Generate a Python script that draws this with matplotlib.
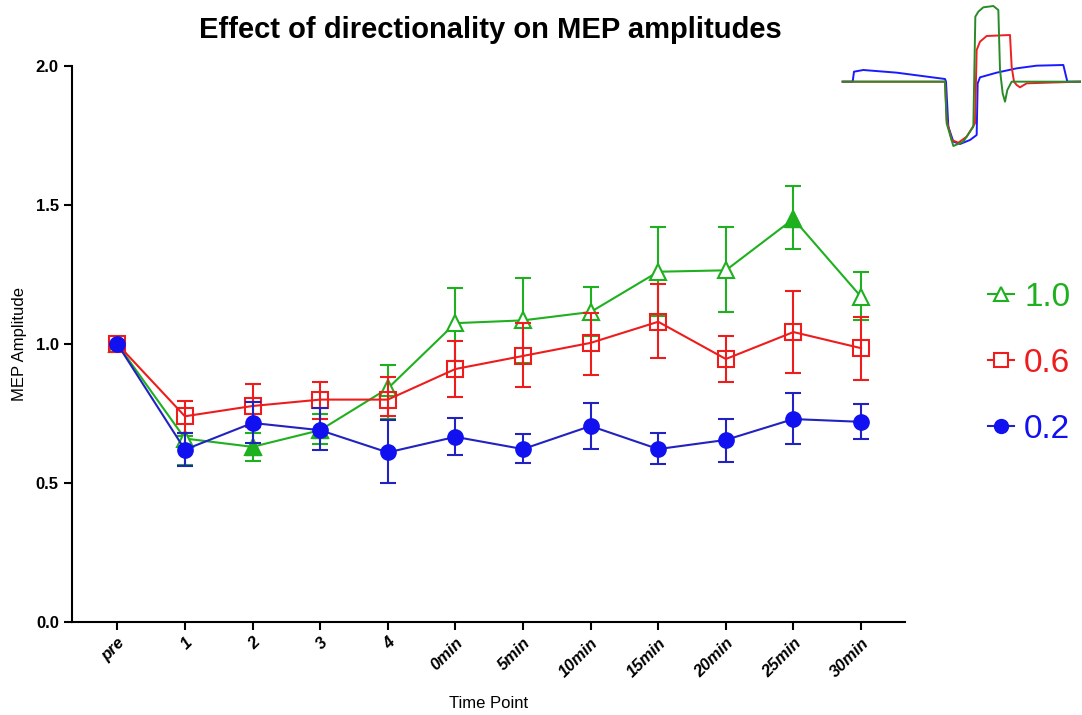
import numpy as np
import matplotlib
matplotlib.use("Agg")
import matplotlib.pyplot as plt
from matplotlib.lines import Line2D

plt.rcParams["font.family"] = ["Liberation Sans", "DejaVu Sans"]

# ---- data ----
time_points = ["pre", "1", "2", "3", "4", "0min", "5min", "10min",
               "15min", "20min", "25min", "30min"]

amp_10 = [1.00, 0.66, 0.63, 0.69, 0.84, 1.075, 1.085, 1.115, 1.26, 1.265, 1.45, 1.17]
lo_10 = [1.00, 0.565, 0.58, 0.64, 0.73, 0.94, 0.93, 1.03, 1.10, 1.115, 1.34, 1.086]
hi_10 = [1.00, 0.67, 0.68, 0.75, 0.925, 1.20, 1.237, 1.205, 1.42, 1.42, 1.568, 1.26]

amp_06 = [1.00, 0.74, 0.777, 0.80, 0.80, 0.91, 0.957, 1.004, 1.08, 0.946, 1.043, 0.985]
lo_06 = [1.00, 0.68, 0.70, 0.73, 0.74, 0.81, 0.845, 0.89, 0.95, 0.863, 0.896, 0.87]
hi_06 = [1.00, 0.795, 0.856, 0.864, 0.88, 1.01, 1.075, 1.11, 1.216, 1.03, 1.19, 1.097]

amp_02 = [1.00, 0.62, 0.716, 0.69, 0.61, 0.666, 0.622, 0.705, 0.622, 0.655, 0.73, 0.72]
lo_02 = [1.00, 0.56, 0.645, 0.62, 0.50, 0.60, 0.572, 0.622, 0.568, 0.576, 0.64, 0.658]
hi_02 = [1.00, 0.68, 0.79, 0.77, 0.727, 0.733, 0.676, 0.787, 0.68, 0.73, 0.824, 0.784]

filled_10 = [2, 3, 10]   # points where the 1.0 triangle is drawn filled

# inset waveform traces (arbitrary units, y grows downward)
blue_tx = [38, 68, 72, 100, 200, 345, 348, 355, 370, 390, 420, 440, 443, 450, 500, 560, 620, 700, 712, 750]
blue_ty = [245, 245, 215, 210, 218, 237, 245, 380, 425, 432, 420, 405, 250, 232, 218, 205, 197, 195, 245, 245]
red_tx = [38, 345, 350, 365, 385, 410, 435, 440, 450, 470, 540, 545, 552, 560, 570, 590, 750]
red_ty = [245, 245, 360, 420, 428, 410, 370, 150, 125, 108, 105, 200, 245, 255, 262, 250, 245]
green_tx = [38, 345, 350, 370, 400, 430, 436, 445, 460, 490, 505, 510, 518, 525, 532, 545, 750]
green_ty = [245, 245, 370, 438, 425, 380, 50, 35, 22, 18, 30, 210, 280, 305, 270, 245, 245]

GREEN = "#1fb01f"
RED = "#ee1c1c"
BLUE = "#1010f0"
BLUE_LINE = "#2222c0"

fig = plt.figure(figsize=(10.82, 7.15), dpi=100)
ax = fig.add_axes([72 / 1082, 93 / 715, 833 / 1082, 556 / 715])

x = np.arange(len(time_points))


def err(v, lo, hi):
    v, lo, hi = map(np.asarray, (v, lo, hi))
    return [v - lo, hi - v]


eb_kw = dict(capsize=6, elinewidth=1.5, capthick=1.5, linewidth=1.5)

ax.errorbar(x, amp_10, yerr=err(amp_10, lo_10, hi_10), color=GREEN,
            marker="^", markersize=11, markerfacecolor="white",
            markeredgewidth=1.5, zorder=2, **eb_kw)
ax.plot(x[filled_10], np.asarray(amp_10)[filled_10], "^", color=GREEN,
        markersize=11, zorder=2.5)
ax.errorbar(x, amp_06, yerr=err(amp_06, lo_06, hi_06), color=RED,
            marker="s", markersize=11, markerfacecolor="none",
            markeredgewidth=1.5, zorder=3, **eb_kw)
ax.errorbar(x, amp_02, yerr=err(amp_02, lo_02, hi_02), color=BLUE_LINE,
            marker="o", markersize=11, markerfacecolor=BLUE,
            markeredgecolor=BLUE, zorder=4, **eb_kw)

ax.set_xlim(-0.67, 11.65)
ax.set_ylim(0, 2.0)
ax.set_yticks([0, 0.5, 1.0, 1.5, 2.0])
ax.set_yticklabels(["0.0", "0.5", "1.0", "1.5", "2.0"], fontweight="bold", fontsize=12)
ax.set_xticks(x)
ax.set_xticklabels(time_points, rotation=45, ha="right", rotation_mode="anchor",
                   fontweight="bold", fontstyle="italic", fontsize=12)
ax.tick_params(axis="both", direction="out", length=6, width=1.5)
for s in ("top", "right"):
    ax.spines[s].set_visible(False)
for s in ("left", "bottom"):
    ax.spines[s].set_linewidth(1.5)

ax.set_ylabel("MEP Amplitude", fontsize=12, labelpad=6)
ax.set_xlabel("Time Point", fontsize=12, labelpad=12)
fig.text(0.453, 0.958, "Effect of directionality on MEP amplitudes",
         ha="center", va="center", fontsize=21, fontweight="bold")

handles = [
    Line2D([], [], color=GREEN, marker="^", markersize=10, markerfacecolor="white",
           markeredgewidth=1.5, linewidth=1.5),
    Line2D([], [], color=RED, marker="s", markersize=10, markerfacecolor="white",
           markeredgewidth=1.5, linewidth=1.5),
    Line2D([], [], color=BLUE_LINE, marker="o", markersize=10, markerfacecolor=BLUE,
           markeredgecolor=BLUE, linewidth=1.5),
]
leg = fig.legend(handles, ["1.0", "0.6", "0.2"], loc="center left",
                 bbox_to_anchor=(0.885, 0.492), frameon=False, fontsize=24,
                 handlelength=0.8, handletextpad=0.3, labelspacing=1.05)
for txt, c in zip(leg.get_texts(), [GREEN, RED, BLUE]):
    txt.set_color(c)

# inset with the stimulus waveforms
ins = fig.add_axes([830 / 1082, (715 - 160) / 715, 252 / 1082, 160 / 715])
ins.plot(blue_tx, blue_ty, color="#1a1aff", linewidth=1.4)
ins.plot(red_tx, red_ty, color="#ee2020", linewidth=1.4)
ins.plot(green_tx, green_ty, color="#2a8a2a", linewidth=1.4)
ins.set_xlim(0, 756)
ins.set_ylim(480, 0)
ins.axis("off")

fig.savefig("out.png", dpi=100)
